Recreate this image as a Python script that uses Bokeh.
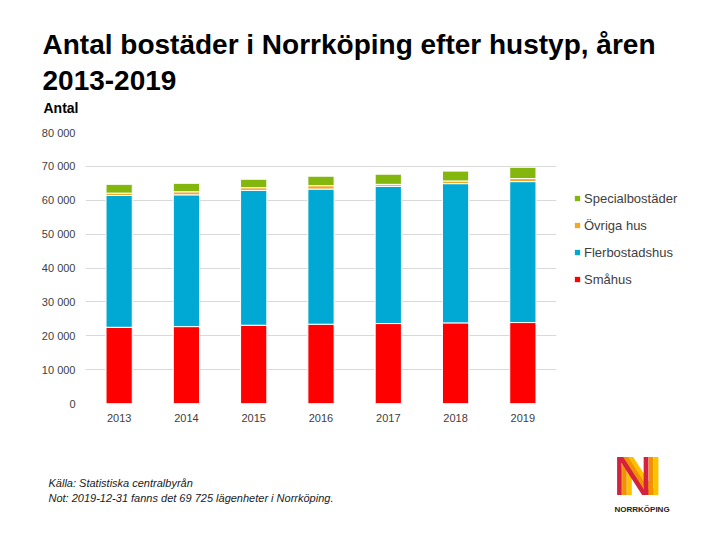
from bokeh.plotting import figure
from bokeh.models import (FixedTicker, Legend, LegendItem, Title, FactorRange, Range1d)
from bokeh.embed import file_html
from bokeh.resources import INLINE

years = ["2013", "2014", "2015", "2016", "2017", "2018", "2019"]
smahus = [22500, 22700, 23100, 23400, 23600, 23800, 23900]
flerbostadshus = [38900, 38900, 39800, 39900, 40500, 41100, 41600]
ovriga_hus = [700, 900, 800, 1000, 600, 800, 900]
specialbostader = [2600, 2500, 2500, 2800, 3000, 2900, 3325]
series = ["Småhus", "Flerbostadshus", "Övriga hus", "Specialbostäder"]
colors = ["#ff0000", "#00a9d4", "#f5a623", "#84b70d"]
y_ticks = [0, 10000, 20000, 30000, 40000, 50000, 60000, 70000, 80000]
y_tick_labels = ["0", "10 000", "20 000", "30 000", "40 000", "50 000", "60 000", "70 000", "80 000"]

FONT = "Liberation Sans"
W = 704
FL, FW, FH = 85, 471, 271

data = {"year": years, "Småhus": smahus, "Flerbostadshus": flerbostadshus,
        "Övriga hus": ovriga_hus, "Specialbostäder": specialbostader}

p = figure(x_range=FactorRange(*years), y_range=Range1d(0, 80000),
           frame_width=FW, frame_height=FH,
           min_border_left=FL, min_border_right=W - FL - FW,
           min_border_top=0, min_border_bottom=0,
           output_backend="svg", toolbar_location=None, tools="")
p.outline_line_color = None

renderers = p.vbar_stack(series, x="year", width=0.39, color=colors, source=data,
                         line_color="white", line_width=1)

p.yaxis.ticker = FixedTicker(ticks=y_ticks)
p.yaxis.major_label_overrides = {t: s for t, s in zip(y_ticks, y_tick_labels)}
for ax in (p.xaxis, p.yaxis):
    ax.axis_line_color = None
    ax.major_tick_line_color = None
    ax.minor_tick_line_color = None
    ax.major_label_text_font = FONT
    ax.major_label_text_font_size = "11px"
    ax.major_label_text_color = "#404040"
p.yaxis.major_label_standoff = 4
p.xaxis.major_label_standoff = 4
p.xgrid.grid_line_color = None
p.ygrid.grid_line_color = "#d9d9d9"
p.ygrid.grid_line_width = 1

items = [LegendItem(label=s, renderers=[r]) for s, r in zip(series, renderers)][::-1]
legend = Legend(items=items, location=(17, 114), orientation="vertical",
                glyph_width=8, glyph_height=8, label_standoff=3, spacing=7,
                label_height=20, padding=0, margin=0,
                label_text_font=FONT, label_text_font_size="13px",
                label_text_color="#404040", border_line_color=None,
                background_fill_alpha=0)
p.add_layout(legend, "right")


def title(text, side, x, size, standoff, style="bold", color="#000000"):
    p.add_layout(Title(text=text, offset=x - FL, standoff=standoff, align="left",
                       text_font=FONT, text_font_size=size, text_font_style=style,
                       text_color=color), side)


def spacer(side, standoff):
    p.add_layout(Title(text=" ", standoff=standoff, text_font_size="2px"), side)


# header (added from the frame outward)
spacer("above", 10)
title("Antal", "above", 43, "14px", 6)
title("2013-2019", "above", 42, "28px", 9.6)
title("Antal bostäder i Norrköping efter hustyp, åren", "above", 42, "28px", 8)
spacer("above", 17.5)

# footer (added from the axis outward)
spacer("below", 44.7)
# logo letters: zero net height so they overlap the footer rows
title("N", "below", 622, "56px", -66.2, "normal", "#fcc200")
title("N", "below", 617, "56px", -66.2, "normal", "#f39200")
title("N", "below", 612, "56px", -66.2, "normal", "#d4213d")
spacer("below", -12.1)
title("Källa: Statistiska centralbyrån", "below", 48, "11px", 2, "italic", "#1a1a1a")
title("Not: 2019-12-31 fanns det 69 725 lägenheter i Norrköping.", "below", 48, "11px", 0.6, "italic", "#1a1a1a")
title("NORRKÖPING", "below", 614, "8px", -2.6, "bold", "#222222")
spacer("below", 19.2)

open("out.html", "w").write(file_html(p, INLINE))
